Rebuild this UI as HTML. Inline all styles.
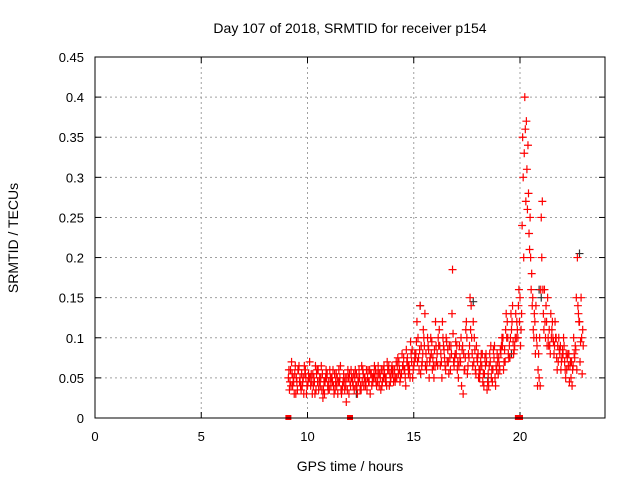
<!DOCTYPE html>
<html><head><meta charset="utf-8"><style>
body{margin:0;background:#fff}
svg{display:block;font-family:"Liberation Sans",sans-serif}
</style></head><body>
<svg id="chart" width="640" height="480">
<rect width="640" height="480" fill="#fff"/>
<g id="grid"></g>
<g id="ticks"></g>
<g id="marks"></g>
<rect x="95" y="57" width="510" height="361" fill="none" stroke="#000" stroke-width="1"/>
<text x="350" y="33" text-anchor="middle" font-size="14">Day 107 of 2018, SRMTID for receiver p154</text>
<text x="350" y="471" text-anchor="middle" font-size="14">GPS time / hours</text>
<text transform="translate(18,238) rotate(-90)" text-anchor="middle" font-size="14">SRMTID / TECUs</text>
</svg>
<script>
const xTicks=[0,5,10,15,20];
const yTicks=[0,0.05,0.1,0.15,0.2,0.25,0.3,0.35,0.4,0.45];
const yTickLabels=["0","0.05","0.1","0.15","0.2","0.25","0.3","0.35","0.4","0.45"];
const t0s=[9.1,9.15,9.125,9.175];
const dt=0.1;
const s1=[.05,.06,.04,.055,.045,.065,.035,.05,.06,.04,.07,.045,.05,.035,.06,.04,.055,.03,.05,.045,.04,.06,.035,.05,.045,.03,.055,.04,.06,.045,.05,.035,.055,.045,.04,.06,.05,.035,.045,.055,.05,.06,.045,.055,.04,.065,.05,.06,.045,.055,.06,.05,.07,.055,.065,.05,.075,.06,.07,.065,.08,.1,.14,.07,.09,.06,.085,.1,.075,.065,.08,.11,.07,.09,.06,.085,.075,.13,.065,.08,.05,.07,.09,.06,.1,.075,.14,.12,.06,.07,.05,.065,.04,.08,.055,.07,.045,.09,.06,.075,.08,.1,.07,.12,.09,.11,.08,.13,.1,.15,.24,.33,.37,.28,.2,.15,.12,.09,.05,.25,.13,.1,.15,.09,.11,.08,.1,.07,.09,.085,.07,.06,.08,.05,.065,.09,.2,.12,.1];
const s2=[.035,.07,.045,.03,.06,.05,.04,.065,.03,.055,.04,.055,.03,.06,.045,.065,.035,.05,.04,.06,.05,.03,.055,.045,.065,.04,.035,.05,.03,.06,.04,.06,.03,.05,.065,.04,.045,.06,.03,.05,.065,.04,.055,.035,.06,.05,.07,.04,.06,.045,.05,.075,.045,.08,.06,.085,.055,.095,.05,.08,.12,.06,.09,.11,.065,.1,.07,.095,.05,.09,.1,.065,.12,.075,.095,.055,.09,.105,.08,.06,.09,.04,.08,.11,.065,.15,.08,.1,.09,.05,.07,.045,.075,.035,.065,.05,.085,.04,.07,.06,.1,.07,.13,.08,.1,.14,.09,.12,.16,.11,.3,.36,.26,.21,.18,.1,.14,.06,.04,.27,.16,.12,.09,.13,.1,.12,.06,.085,.07,.1,.05,.08,.065,.04,.08,.15,.13,.095,.11];
const s3=[.06,.04,.05,.065,.035,.045,.055,.03,.05,.045,.05,.03,.045,.055,.035,.05,.025,.045,.055,.035,.05,.04,.045,.03,.05,.035,.045,.02,.05,.04,.045,.05,.04,.06,.035,.055,.04,.05,.06,.04,.055,.045,.065,.05,.045,.055,.04,.065,.05,.06,.045,.065,.06,.055,.075,.04,.065,.05,.085,.07,.095,.075,.055,.08,.13,.07,.05,.08,.065,.12,.065,.09,.05,.085,.1,.07,.06,.185,.075,.09,.065,.1,.03,.075,.055,.09,.1,.07,.055,.08,.06,.08,.055,.07,.04,.09,.06,.05,.08,.065,.09,.06,.11,.1,.075,.12,.085,.1,.14,.09,.35,.4,.31,.23,.16,.11,.08,.04,.1,.2,.11,.14,.1,.08,.12,.09,.075,.1,.06,.08,.06,.075,.045,.07,.1,.085,.14,.07,.055];
const s4=[.045,.055,.03,.05,.06,.04,.045,.055,.04,.05,.055,.04,.065,.045,.05,.035,.045,.06,.035,.05,.045,.055,.04,.06,.035,.045,.05,.035,.055,.05,.055,.04,.05,.035,.045,.05,.06,.045,.055,.045,.05,.055,.04,.06,.05,.045,.06,.055,.065,.05,.07,.055,.05,.065,.06,.07,.065,.08,.06,.075,.07,.085,.065,.1,.08,.09,.075,.06,.085,.07,.09,.08,.1,.065,.07,.09,.08,.07,.095,.07,.075,.085,.06,.12,.08,.11,.065,.085,.075,.06,.08,.055,.065,.045,.08,.06,.075,.065,.055,.085,.09,.085,.1,.075,.13,.095,.1,.11,.12,.13,.2,.27,.34,.25,.14,.13,.1,.08,.16,.16,.12,.09,.11,.1,.095,.1,.09,.08,.075,.09,.08,.065,.07,.06,.075,.06,.12,.15,.09];
const blackT=[15.3,17.8,19.6,20.9,22.8,21.0,18.5,12.3];
const blackV=[0.14,0.145,0.08,0.16,0.205,0.15,0.05,0.03];
const zeroT=[9.1,12.0,19.9,20.0];
const X=v=>95+v*(510/24);
const Y=v=>418-v*(361/0.45);
const NS="http://www.w3.org/2000/svg";
const grid=document.getElementById('grid'),ticks=document.getElementById('ticks'),marks=document.getElementById('marks');
function mk(tag,attrs,parent){const e=document.createElementNS(NS,tag);for(const k in attrs)e.setAttribute(k,attrs[k]);parent.appendChild(e);return e;}
xTicks.forEach(v=>{
  const x=X(v);
  if(v>0){const g=mk('line',{x1:x,x2:x,y1:57,y2:418,stroke:'#a0a0a0','stroke-dasharray':'2,3'},grid);
  
  }
  mk('line',{x1:x,x2:x,y1:418,y2:412,stroke:'#000'},ticks);
  mk('line',{x1:x,x2:x,y1:57,y2:63,stroke:'#000'},ticks);
  const t=mk('text',{x:x,y:441,'text-anchor':'middle','font-size':13},ticks);t.textContent=v;
  
  
});
yTicks.forEach((v,i)=>{
  const y=Y(v);
  if(i>0){const g=mk('line',{x1:95,x2:605,y1:y,y2:y,stroke:'#a0a0a0','stroke-dasharray':'2,3'},grid);
  
  }
  mk('line',{x1:95,x2:101,y1:y,y2:y,stroke:'#000'},ticks);
  mk('line',{x1:605,x2:599,y1:y,y2:y,stroke:'#000'},ticks);
  const t=mk('text',{x:84,y:y+5,'text-anchor':'end','font-size':13},ticks);t.textContent=yTickLabels[i];
  
  
});
function plus(t,v,color){
  const x=X(t),y=Y(v);
  const p=mk('path',{d:`M${x-4},${y}H${x+4}M${x},${y-4}V${y+4}`,stroke:color,'stroke-width':1.2,fill:'none'},marks);
  
  
}
blackT.forEach((t,i)=>plus(t,blackV[i],'#333'));
[s1,s2,s3,s4].forEach((s,k)=>s.forEach((v,i)=>plus(t0s[k]+i*dt,v,'#ff0000')));
zeroT.forEach(t=>{
  const r=mk('rect',{x:X(t)-3,y:Y(0)-3,width:6,height:5,fill:'#ff0000'},marks);
  
  
});
</script>
</body></html>
